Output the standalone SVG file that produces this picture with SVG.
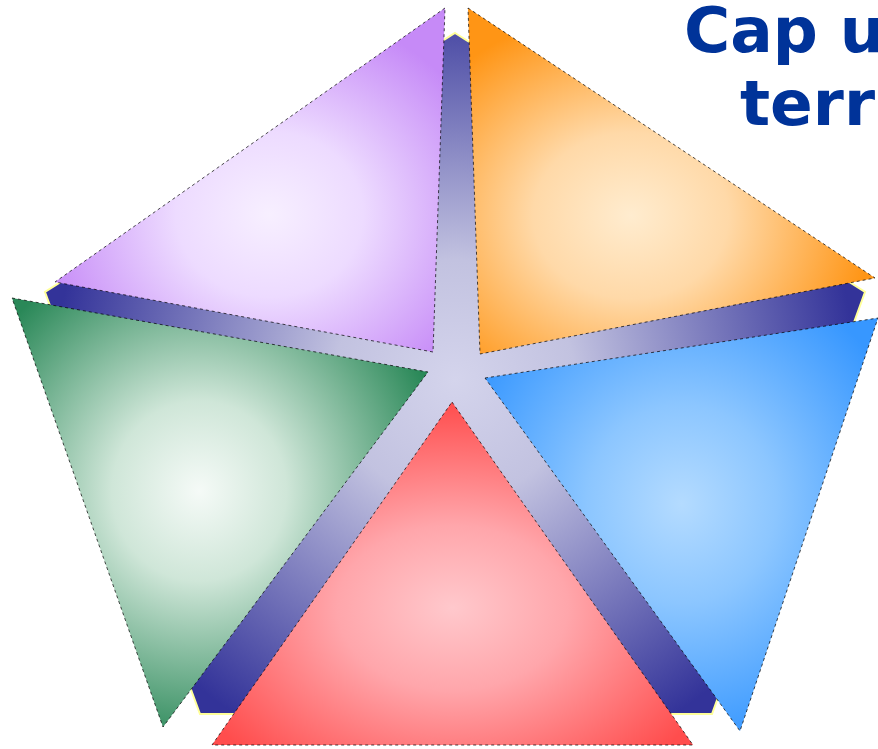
<svg xmlns="http://www.w3.org/2000/svg" width="878" height="749" viewBox="0 0 878 749">
<style>
.title{font-family:"DejaVu Sans",Verdana,sans-serif;font-weight:bold;font-size:63px;fill:#003399}
.tri{stroke:#000;stroke-width:1;stroke-dasharray:3 3;stroke-opacity:0.7}
</style>
<defs>
<radialGradient id="bg" gradientUnits="userSpaceOnUse" cx="455" cy="380" r="400">
<stop offset="0" stop-color="#d4d4ec"/><stop offset="0.3" stop-color="#c2c2e0"/><stop offset="1" stop-color="#333399"/>
</radialGradient>
<radialGradient id="gPurple" cx="0.55" cy="0.6" r="0.6"><stop offset="0" stop-color="#f7efff"/><stop offset="0.4" stop-color="#eddbff"/><stop offset="1" stop-color="#c68af7"/></radialGradient>
<radialGradient id="gOrange" cx="0.4" cy="0.6" r="0.6"><stop offset="0" stop-color="#ffeccf"/><stop offset="0.4" stop-color="#ffd9a8"/><stop offset="1" stop-color="#ff9515"/></radialGradient>
<radialGradient id="gGreen" cx="0.45" cy="0.45" r="0.6"><stop offset="0" stop-color="#f5faf7"/><stop offset="0.35" stop-color="#cfe6d8"/><stop offset="1" stop-color="#2a8858"/></radialGradient>
<radialGradient id="gRed" cx="0.5" cy="0.6" r="0.6"><stop offset="0" stop-color="#ffc8cc"/><stop offset="0.4" stop-color="#ffa6ab"/><stop offset="1" stop-color="#ff4d4d"/></radialGradient>
<radialGradient id="gBlue" cx="0.5" cy="0.45" r="0.6"><stop offset="0" stop-color="#b4dbff"/><stop offset="0.4" stop-color="#8cc6ff"/><stop offset="1" stop-color="#3797ff"/></radialGradient>
</defs>
<g id="background">
<polygon points="455,33 865,292 712,714 200,714 45,292" fill="url(#bg)" stroke="#ffff99" stroke-width="2"/>
</g>
<g id="purple"><polygon class="tri" points="445,8 55,282 433,352" fill="url(#gPurple)"/></g>
<g id="orange"><polygon class="tri" points="468,8 875,278 480,354" fill="url(#gOrange)"/></g>
<g id="green"><polygon class="tri" points="12,298 428,372 163,727" fill="url(#gGreen)"/></g>
<g id="red"><polygon class="tri" points="452,402 693,745 212,745" fill="url(#gRed)"/></g>
<g id="blue"><polygon class="tri" points="485,378 878,318 740,731" fill="url(#gBlue)"/></g>
<g id="title">
<text class="title" x="684" y="52">Cap u</text>
<text class="title" x="740" y="125">terr</text>
</g>
</svg>
